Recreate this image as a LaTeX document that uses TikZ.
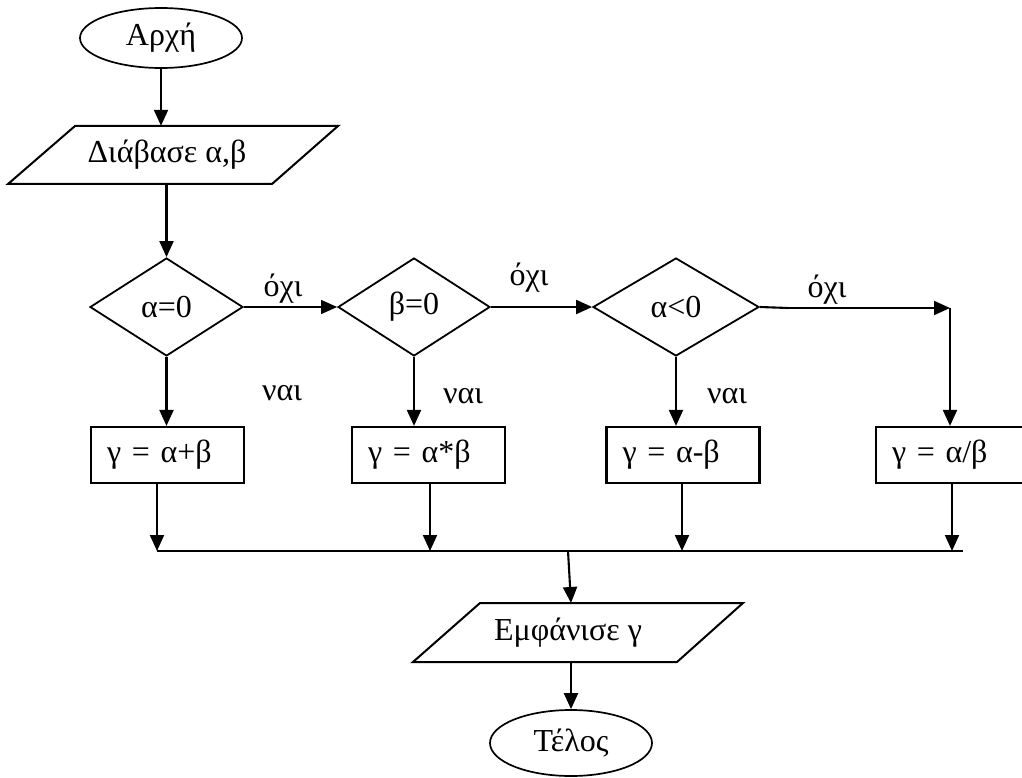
\documentclass[tikz,border=0pt]{standalone}
\usepackage{fontspec}
\setmainfont{Liberation Serif}
\usetikzlibrary{shapes.geometric,arrows.meta}
\begin{document}
\begin{tikzpicture}[x=1pt,y=-1pt,
  every node/.style={font=\fontsize{32}{38}\selectfont},
  lw/.style={line width=2.1pt},
  arr/.style={lw,-{Triangle[length=16pt,width=14pt]}},
  thinarr/.style={line width=1.1pt,-{Triangle[length=16pt,width=14pt]}},
  term/.style={ellipse,draw,line width=1.7pt,minimum width=162pt,minimum height=60pt,inner sep=0pt},
  dec/.style={diamond,draw,line width=1.8pt,inner sep=0pt,minimum height=98pt},
  proc/.style={rectangle,draw,line width=2.2pt,text width=121pt,inner xsep=16pt,inner ysep=0pt,minimum height=56pt,align=left},
  io/.style={inner sep=0pt},
  lbl/.style={inner sep=0pt}]
\useasboundingbox (0,0) rectangle (1022,778);

% terminals and I/O
\node[term] (start) at (161,38) {Αρχή};
\node[io, minimum height=58pt, minimum width=200pt] (in) at (167,155) {Διάβασε α,β};
\draw[line width=2pt] (75,126) -- (338,126) -- (272,184) -- (8,184) -- cycle;

% decisions
\node[dec, minimum width=153pt] (d1) at (166.5,307) {α=0};
\node[dec, minimum width=152pt] (d2) at (414,307) {β=0};
\node[dec, minimum width=166pt] (d3) at (676,307) {α<0};

% processes
\node[proc] (b1) at (167.5,455) {γ = α+β};
\node[proc] (b2) at (428.5,455) {γ = α*β};
\node[proc] (b3) at (683,455) {γ = α-β};
\node[proc] (b4) at (952.5,455) {γ = α/β};

% output and end
\node[io, minimum height=59pt, minimum width=180pt] (out) at (568,632.5) {Εμφάνισε γ};
\draw[line width=2pt] (480,603) -- (743,603) -- (677,662) -- (413,662) -- cycle;
\node[term, minimum height=66pt] (end) at (571,743) {Τέλος};

% helper coordinates
\coordinate (j3a) at (788,308);
\coordinate (j3b) at (868,308);
\coordinate (j4) at (950,308);
\coordinate (bus1) at (157,551);
\coordinate (bus2) at (430,551);
\coordinate (bus3) at (682,551);
\coordinate (bus4) at (952,551);
\coordinate (busE) at (963,551);
\coordinate (busM) at (568,551);
\coordinate (outTop) at (571,603);

% connectors
\draw[arr] (start.south) -- (start.south |- in.north);
\draw[arr] (d1.north |- in.south) -- (d1.north);
\draw[thinarr] (d1.east) -- (d2.west);
\draw[arr] (d2.east) -- (d3.west);
\draw[lw] (d3.east) -- (j3a);
\draw[line width=1.1pt] (j3a) -- (j3b);
\draw[arr] (j3b) -- (j4);
\draw[arr] (j4) -- (j4 |- b4.north);
\draw[arr] (d1.south) -- (d1.south |- b1.north);
\draw[arr] (d2.south) -- (d2.south |- b2.north);
\draw[arr] (d3.south) -- (d3.south |- b3.north);
\draw[arr] (b1.south -| bus1) -- (bus1);
\draw[arr] (b2.south -| bus2) -- (bus2);
\draw[arr] (b3.south -| bus3) -- (bus3);
\draw[arr] (b4.south -| bus4) -- (bus4);
\draw[lw] (bus1) -- (busE);
\draw[arr] (busM) -- (outTop);
\draw[arr] (outTop |- out.south) -- (end.north);

% labels
\node[lbl] (no1) at (283,289) {όχι};
\node[lbl] (no2) at (529,278) {όχι};
\node[lbl] (no3) at (827,290) {όχι};
\node[lbl] (yes1) at (282,393) {ναι};
\node[lbl] (yes2) at (463,396) {ναι};
\node[lbl] (yes3) at (727,396) {ναι};
\end{tikzpicture}
\end{document}
